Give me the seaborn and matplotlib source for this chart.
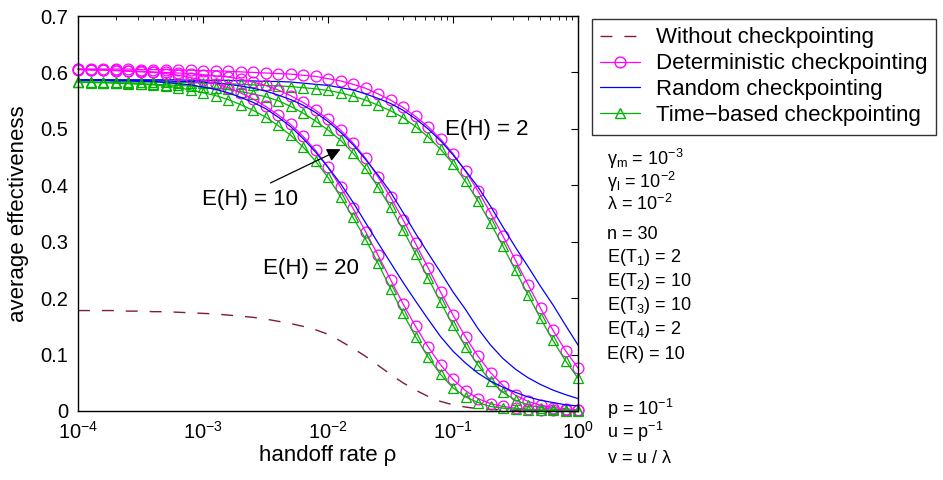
import numpy as np
import matplotlib
matplotlib.use('Agg')
import matplotlib.pyplot as plt
import seaborn as sns
from matplotlib.lines import Line2D

# handoff rate grid (10 points per decade, 1e-4 .. 1)
rho = np.logspace(-4, 0, 41)

# without checkpointing
no_ckpt = [0.178, 0.178, 0.178, 0.178, 0.177, 0.177, 0.176, 0.176, 0.175, 0.174,
           0.173, 0.172, 0.170, 0.168, 0.166, 0.163, 0.159, 0.155, 0.150, 0.144,
           0.136, 0.124, 0.111, 0.097, 0.081, 0.065, 0.050, 0.037, 0.026, 0.017,
           0.011, 0.007, 0.004, 0.003, 0.002, 0.001, 0.001, 0.000, 0.000, 0.000, 0.000]

# deterministic checkpointing, E(H) = 2, 10, 20
det_2 = [0.606, 0.606, 0.606, 0.606, 0.606, 0.605, 0.605, 0.605, 0.604, 0.604,
         0.603, 0.603, 0.602, 0.601, 0.600, 0.599, 0.598, 0.597, 0.595, 0.593,
         0.589, 0.585, 0.579, 0.572, 0.562, 0.551, 0.538, 0.522, 0.504, 0.482,
         0.456, 0.425, 0.390, 0.351, 0.310, 0.267, 0.224, 0.182, 0.143, 0.107, 0.076]
det_10 = [0.606, 0.605, 0.605, 0.604, 0.603, 0.602, 0.601, 0.600, 0.599, 0.598,
          0.596, 0.594, 0.592, 0.588, 0.583, 0.577, 0.569, 0.559, 0.547, 0.533,
          0.517, 0.498, 0.475, 0.448, 0.415, 0.379, 0.339, 0.297, 0.254, 0.211,
          0.170, 0.131, 0.097, 0.068, 0.045, 0.028, 0.017, 0.010, 0.006, 0.004, 0.002]
det_20 = [0.605, 0.604, 0.604, 0.603, 0.602, 0.601, 0.600, 0.598, 0.595, 0.591,
          0.586, 0.580, 0.573, 0.564, 0.553, 0.540, 0.525, 0.508, 0.487, 0.462,
          0.432, 0.397, 0.359, 0.318, 0.276, 0.233, 0.190, 0.150, 0.114, 0.082,
          0.056, 0.036, 0.022, 0.013, 0.008, 0.005, 0.003, 0.002, 0.001, 0.001, 0.001]

# random checkpointing
rand_2 = [0.587, 0.587, 0.587, 0.587, 0.587, 0.587, 0.587, 0.587, 0.587, 0.586,
          0.586, 0.586, 0.586, 0.585, 0.585, 0.584, 0.584, 0.583, 0.581, 0.579,
          0.577, 0.573, 0.569, 0.562, 0.554, 0.545, 0.533, 0.518, 0.500, 0.479,
          0.454, 0.426, 0.397, 0.363, 0.326, 0.290, 0.256, 0.221, 0.188, 0.152, 0.117]
rand_10 = [0.587, 0.587, 0.587, 0.586, 0.586, 0.586, 0.585, 0.585, 0.584, 0.584,
           0.583, 0.581, 0.579, 0.576, 0.572, 0.567, 0.560, 0.552, 0.542, 0.529,
           0.513, 0.494, 0.472, 0.446, 0.418, 0.388, 0.352, 0.315, 0.280, 0.246,
           0.211, 0.180, 0.146, 0.117, 0.093, 0.074, 0.059, 0.047, 0.037, 0.029, 0.022]
rand_20 = [0.586, 0.586, 0.586, 0.585, 0.585, 0.584, 0.584, 0.582, 0.580, 0.578,
           0.574, 0.570, 0.564, 0.556, 0.547, 0.536, 0.521, 0.504, 0.483, 0.459,
           0.432, 0.403, 0.370, 0.334, 0.298, 0.263, 0.228, 0.195, 0.163, 0.132,
           0.106, 0.085, 0.067, 0.053, 0.042, 0.033, 0.025, 0.019, 0.015, 0.011, 0.009]

# time-based checkpointing
time_2 = [0.583, 0.583, 0.583, 0.583, 0.583, 0.583, 0.583, 0.583, 0.582, 0.582,
          0.581, 0.581, 0.580, 0.579, 0.578, 0.577, 0.576, 0.575, 0.573, 0.571,
          0.568, 0.564, 0.558, 0.551, 0.542, 0.532, 0.520, 0.504, 0.486, 0.464,
          0.438, 0.407, 0.372, 0.333, 0.292, 0.249, 0.206, 0.164, 0.125, 0.089, 0.058]
time_10 = [0.583, 0.583, 0.582, 0.582, 0.581, 0.580, 0.579, 0.578, 0.577, 0.576,
           0.574, 0.572, 0.570, 0.566, 0.562, 0.557, 0.550, 0.540, 0.528, 0.514,
           0.498, 0.480, 0.457, 0.430, 0.397, 0.361, 0.321, 0.279, 0.236, 0.193,
           0.152, 0.114, 0.081, 0.053, 0.033, 0.019, 0.011, 0.006, 0.003, 0.002, 0.001]
time_20 = [0.583, 0.582, 0.582, 0.581, 0.580, 0.579, 0.578, 0.576, 0.573, 0.569,
           0.564, 0.559, 0.552, 0.543, 0.533, 0.521, 0.506, 0.489, 0.468, 0.443,
           0.414, 0.380, 0.343, 0.305, 0.262, 0.217, 0.173, 0.132, 0.096, 0.065,
           0.041, 0.025, 0.015, 0.008, 0.005, 0.003, 0.002, 0.001, 0.001, 0.000, 0.000]

legend_labels = ['Without checkpointing', 'Deterministic checkpointing',
                 'Random checkpointing', 'Time\u2212based checkpointing']
param_lines = [r'$\gamma_\mathrm{m}$ = 10$^{-3}$', r'$\gamma_\mathrm{l}$ = 10$^{-2}$',
               r'$\lambda$ = 10$^{-2}$', 'n = 30', r'E(T$_1$) = 2', r'E(T$_2$) = 10',
               r'E(T$_3$) = 10', r'E(T$_4$) = 2', 'E(R) = 10', '',
               r'p = 10$^{-1}$', r'u = p$^{-1}$', r'v = u / $\lambda$']

sns.set_theme(style='white')
plt.rcParams['font.family'] = ['Liberation Sans', 'DejaVu Sans']
plt.rcParams['mathtext.fontset'] = 'custom'
plt.rcParams['mathtext.rm'] = 'Liberation Sans'
plt.rcParams['mathtext.it'] = 'Liberation Sans'
plt.rcParams['mathtext.sf'] = 'Liberation Sans'
plt.rcParams['axes.unicode_minus'] = True
for k in ['text.color', 'axes.labelcolor', 'xtick.color', 'ytick.color', 'axes.edgecolor']:
    plt.rcParams[k] = 'black'

c_no = '#801848'
c_det = '#ff00ff'
c_rand = '#0000ff'
c_time = '#00b400'

fig = plt.figure(figsize=(9.43, 4.8), dpi=100)
ax = fig.add_axes([78 / 943, 1 - 411 / 480, 500 / 943, 395 / 480])

sns.lineplot(x=rho, y=no_ckpt, ax=ax, color=c_no, lw=1.0, ls=(0, (8.6, 8.6)))
mk = dict(markersize=7.8, markerfacecolor='none', markeredgewidth=0.9, lw=0.9, clip_on=False)
for det, rnd, tim in [(det_2, rand_2, time_2), (det_10, rand_10, time_10), (det_20, rand_20, time_20)]:
    sns.lineplot(x=rho, y=det, ax=ax, color=c_det, marker='o', markeredgecolor=c_det, **mk)
    sns.lineplot(x=rho, y=rnd, ax=ax, color=c_rand, lw=0.9)
    sns.lineplot(x=rho, y=tim, ax=ax, color=c_time, marker='^', markeredgecolor=c_time, **mk)

ax.set_xscale('log')
ax.set_xlim(1e-4, 1)
ax.set_ylim(0, 0.7)
ax.set_yticks(np.arange(0, 0.71, 0.1))
ax.set_yticklabels(['0', '0.1', '0.2', '0.3', '0.4', '0.5', '0.6', '0.7'])
ax.tick_params(axis='both', which='both', direction='in', top=True, right=True,
               labelsize=14.5, pad=7, color='black', labelcolor='black')
ax.tick_params(which='major', length=5, width=0.8)
ax.tick_params(which='minor', length=3, width=0.6)
for sp in ax.spines.values():
    sp.set_color('black')
    sp.set_linewidth(1.0)

ax.set_xlabel('handoff rate \u03c1', fontsize=16, labelpad=2)
ax.set_ylabel('average effectiveness', fontsize=16, labelpad=8)

ax.text(0.0863, 0.498, 'E(H) = 2', fontsize=16, va='center')
ax.text(0.00098, 0.374, 'E(H) = 10', fontsize=16, va='center')
ax.text(0.0030, 0.253, 'E(H) = 20', fontsize=16, va='center')
ax.annotate('', xy=(10 ** -1.88, 0.466), xytext=(10 ** -2.48, 0.402),
            arrowprops=dict(arrowstyle='-|>', color='black', lw=0.9, mutation_scale=20))

handles = [Line2D([], [], color=c_no, lw=1.0, ls=(0, (8.6, 8.6))),
           Line2D([], [], color=c_det, lw=0.9, marker='o', markerfacecolor='none', markersize=7.8),
           Line2D([], [], color=c_rand, lw=0.9),
           Line2D([], [], color=c_time, lw=0.9, marker='^', markerfacecolor='none', markersize=7.8)]
leg = fig.legend(handles, legend_labels, loc='upper left', bbox_to_anchor=(592 / 943, 1 - 19 / 480),
                 fontsize=16, frameon=True, fancybox=False, edgecolor='black', borderaxespad=0,
                 handlelength=1.8, handletextpad=0.7, labelspacing=0.22, borderpad=0.38)
leg.get_frame().set_linewidth(1.0)

baselines = [165, 188, 210, 239, 262, 286, 310, 334, 359, 0, 415, 438, 463]
for txt, yb in zip(param_lines, baselines):
    if txt:
        fig.text(607 / 943, 1 - yb / 480, txt, fontsize=13, va='baseline', ha='left')

fig.savefig('out.png', dpi=100)
